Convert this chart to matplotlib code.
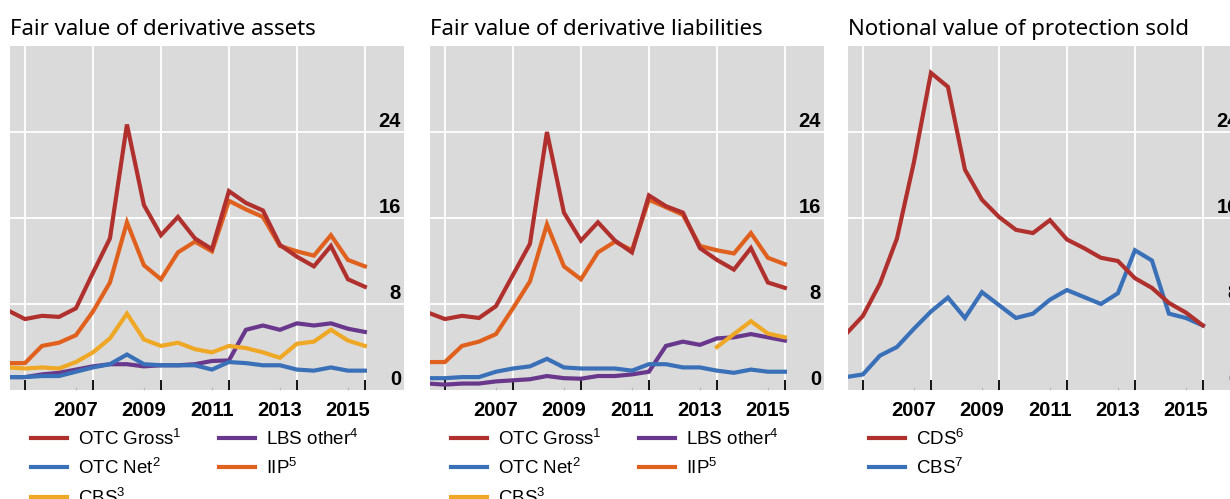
import matplotlib
matplotlib.use("Agg")
import matplotlib.pyplot as plt
import matplotlib.transforms as mtransforms
import numpy as np

# half-yearly observations, plotted from mid-2005 to end-2015
dates = np.arange(2005.5, 2016.01, 0.5)

# Fair value of derivative assets
assets_otc_gross = [7.4, 6.6, 6.9, 6.8, 7.6, 10.9, 14.1, 24.7, 17.2, 14.4, 16.1, 14.1, 13.1, 18.5, 17.4, 16.7, 13.5, 12.4, 11.5, 13.4, 10.3, 9.6]
assets_otc_net = [1.2, 1.2, 1.3, 1.3, 1.7, 2.1, 2.4, 3.3, 2.4, 2.3, 2.3, 2.3, 1.9, 2.6, 2.5, 2.3, 2.3, 1.9, 1.8, 2.1, 1.8, 1.8]
assets_cbs = [2.1, 2.0, 2.1, 2.0, 2.6, 3.5, 4.8, 7.1, 4.7, 4.1, 4.4, 3.8, 3.5, 4.1, 3.9, 3.5, 3.0, 4.3, 4.5, 5.6, 4.6, 4.1]
assets_lbs_other = [1.2, 1.2, 1.45, 1.6, 1.9, 2.2, 2.4, 2.4, 2.2, 2.3, 2.3, 2.4, 2.7, 2.75, 5.6, 6.0, 5.6, 6.2, 6.0, 6.2, 5.7, 5.4]
assets_iip = [2.5, 2.5, 4.1, 4.4, 5.1, 7.3, 10.0, 15.6, 11.6, 10.3, 12.8, 13.8, 12.9, 17.6, 16.8, 16.1, 13.4, 12.9, 12.5, 14.4, 12.1, 11.5]

# Fair value of derivative liabilities
liab_otc_gross = [7.2, 6.6, 6.9, 6.7, 7.8, 10.7, 13.6, 24.0, 16.5, 13.9, 15.6, 13.9, 12.8, 18.1, 17.1, 16.5, 13.2, 12.1, 11.2, 13.2, 10.0, 9.5]
liab_otc_net = [1.1, 1.1, 1.2, 1.2, 1.7, 2.0, 2.2, 2.9, 2.1, 2.0, 2.0, 2.0, 1.8, 2.4, 2.4, 2.1, 2.1, 1.8, 1.6, 1.9, 1.7, 1.7]
liab_cbs = [np.nan] * 17 + [4.0, 5.2, 6.4, 5.25, 4.9]
liab_lbs_other = [0.6, 0.5, 0.6, 0.6, 0.8, 0.9, 1.0, 1.3, 1.1, 1.05, 1.3, 1.3, 1.45, 1.7, 4.1, 4.5, 4.2, 4.8, 4.9, 5.2, 4.9, 4.6]
liab_iip = [2.6, 2.6, 4.1, 4.5, 5.2, 7.6, 10.1, 15.4, 11.5, 10.3, 12.8, 13.8, 13.0, 17.7, 17.0, 16.3, 13.4, 13.0, 12.7, 14.6, 12.3, 11.7]

# Notional value of protection sold
prot_cds = [5.2, 6.9, 9.9, 14.1, 21.2, 29.5, 28.2, 20.5, 17.7, 16.1, 14.9, 14.6, 15.8, 14.0, 13.2, 12.3, 12.0, 10.4, 9.5, 8.1, 7.2, 6.0]
prot_cbs = [1.2, 1.45, 3.2, 4.0, 5.7, 7.3, 8.6, 6.7, 9.1, 7.9, 6.7, 7.1, 8.4, 9.3, 8.65, 8.0, 9.0, 13.0, 12.05, 7.1, 6.7, 6.0]

titles = ["Fair value of derivative assets", "Fair value of derivative liabilities", "Notional value of protection sold"]
y_ticks = [0, 8, 16, 24]
year_labels = ["2007", "2009", "2011", "2013", "2015"]

RED = "#B0302E"
BLUE = "#3A70B8"
YELLOW = "#EFA825"
PURPLE = "#69388C"
ORANGE = "#E0601E"
BG = "#DADADA"

plt.rcParams["font.family"] = ["Liberation Sans", "DejaVu Sans"]
plt.rcParams["mathtext.fontset"] = "custom"
plt.rcParams["mathtext.rm"] = "Liberation Sans"
plt.rcParams["mathtext.default"] = "regular"

fig = plt.figure(figsize=(12.3, 4.99), dpi=100)
W, H = 1230.0, 499.0
bottom = (H - 390) / H
height = 344 / H
lefts = [10, 430, 848]

panels = [
    [(assets_otc_gross, RED, "OTC Gross$^1$"), (assets_otc_net, BLUE, "OTC Net$^2$"),
     (assets_cbs, YELLOW, "CBS$^3$"), (assets_lbs_other, PURPLE, "LBS other$^4$"),
     (assets_iip, ORANGE, "IIP$^5$")],
    [(liab_otc_gross, RED, "OTC Gross$^1$"), (liab_otc_net, BLUE, "OTC Net$^2$"),
     (liab_cbs, YELLOW, "CBS$^3$"), (liab_lbs_other, PURPLE, "LBS other$^4$"),
     (liab_iip, ORANGE, "IIP$^5$")],
    [(prot_cds, RED, "CDS$^6$"), (prot_cbs, BLUE, "CBS$^7$")],
]
zorders = {RED: 5, ORANGE: 4, YELLOW: 3, PURPLE: 2, BLUE: 3}

for i, series in enumerate(panels):
    ax = fig.add_axes([lefts[i] / W, bottom, 394 / W, height])
    ax.set_facecolor(BG)
    handles = []
    for vals, col, lab in series:
        h, = ax.plot(dates, vals, color=col, lw=3, label=lab, zorder=zorders[col],
                     solid_joinstyle="miter")
        handles.append(h)

    ax.set_xlim(2005.56, 2017.15)
    ax.set_ylim(0, 32)
    for s in ax.spines.values():
        s.set_visible(False)

    ax.set_xticks(np.arange(2006, 2017, 2))
    ax.set_xticks(np.arange(2007.5, 2016, 2), minor=True)
    ax.set_xticklabels([])
    ax.set_xticklabels(year_labels, minor=True, fontsize=14.5, fontweight="bold")
    ax.tick_params(axis="x", which="major", direction="in", length=7, width=1.3, color="black")
    ax.tick_params(axis="x", which="minor", direction="in", length=2, width=0.8,
                   color="#BBBBBB", pad=8)
    ax.set_yticks([8, 16, 24])
    ax.set_yticklabels([])
    ax.tick_params(axis="y", length=0)
    ax.grid(True, which="major", color="white", lw=1.3)
    ax.set_axisbelow(True)

    trans = mtransforms.blended_transform_factory(ax.transAxes, ax.transData)
    off = mtransforms.offset_copy(trans, fig=fig, x=-3, y=5, units="dots")
    for v in y_ticks:
        ax.text(1.0, v, str(v), transform=off, ha="right", va="baseline",
                fontsize=14.5, fontweight="bold", zorder=6)

    ax.set_title(titles[i], loc="left", fontsize=16, family=["Noto Sans", "DejaVu Sans"],
                 pad=8)

    ax.legend(handles=handles, ncol=2 if len(handles) > 2 else 1, loc="upper left",
              bbox_to_anchor=(0.035, -0.09), frameon=False, fontsize=13.5,
              handlelength=1.9, handletextpad=0.6, columnspacing=2.0,
              labelspacing=0.5, borderaxespad=0)

fig.savefig("out.png", dpi=100)
